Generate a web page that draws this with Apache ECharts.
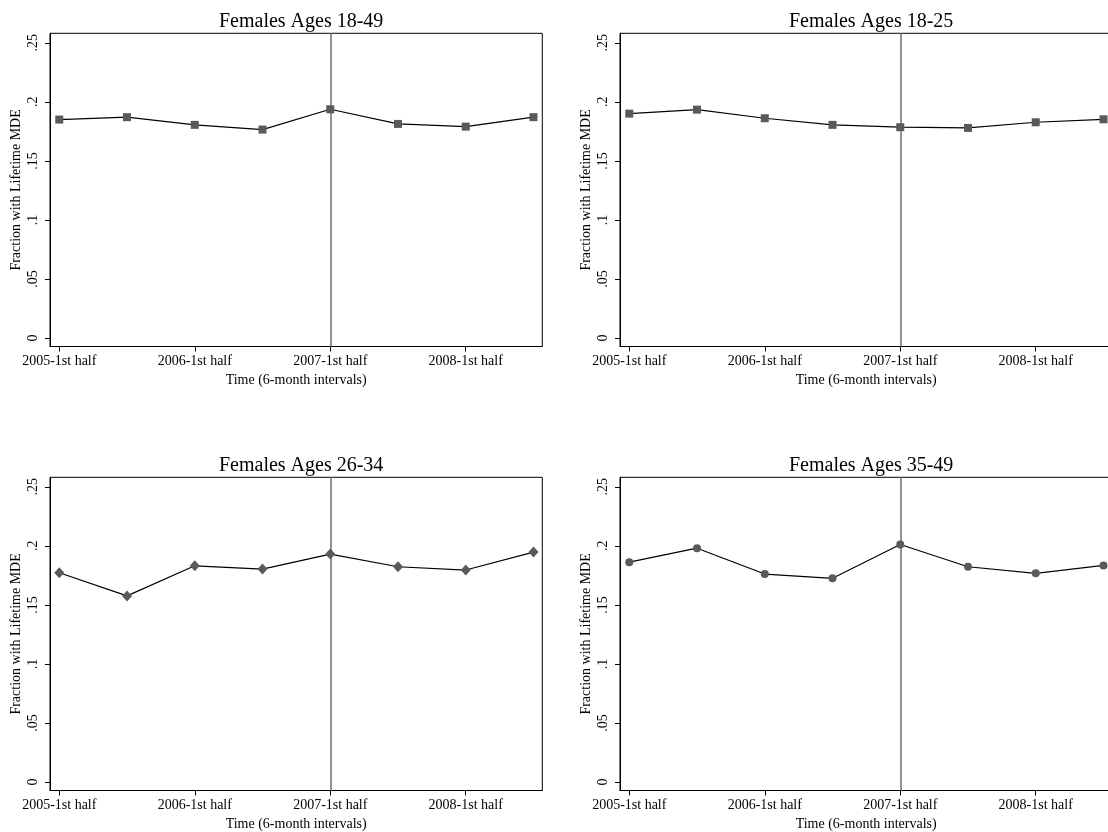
<!DOCTYPE html>
<html>
<head>
<meta charset="utf-8">
<script src="https://cdn.jsdelivr.net/npm/echarts@6/dist/echarts.min.js"></script>
<style>
html,body{margin:0;padding:0;background:#fff;}
#chart{width:1108px;height:832px;}
</style>
</head>
<body>
<div id="chart"></div>
<script>
// Periods (6-month intervals)
const periods = ['2005-1st half','2005-2nd half','2006-1st half','2006-2nd half','2007-1st half','2007-2nd half','2008-1st half','2008-2nd half'];
const xTickIdx = [0, 2, 4, 6];
const yTicks = [0, 0.05, 0.1, 0.15, 0.2, 0.25];
const yTickLabels = ['0', '.05', '.1', '.15', '.2', '.25'];
const panelTitles = ['Females Ages 18-49', 'Females Ages 18-25', 'Females Ages 26-34', 'Females Ages 35-49'];
const f1849 = [0.185, 0.187, 0.1805, 0.1765, 0.1937, 0.1813, 0.179, 0.187];
const f1825 = [0.190, 0.1934, 0.1861, 0.1805, 0.1785, 0.1779, 0.1827, 0.1852];
const f2634 = [0.1772, 0.1576, 0.1831, 0.1803, 0.193, 0.1823, 0.1795, 0.1947];
const f3549 = [0.1862, 0.198, 0.1761, 0.1725, 0.2011, 0.1823, 0.1767, 0.1834];
const cutoffIdx = 4;
const symbols = ['rect', 'rect', 'diamond', 'circle'];
const symbolSizes = [8, 8, [10, 11], 8];

const seriesData = [f1849, f1825, f2634, f3549];
const FONT = 'Liberation Serif';
// plot boxes; right-hand panels run slightly past the page edge (cropped like the original)
const boxes = [
  {left: 50, top: 33.3},
  {left: 620, top: 33.3},
  {left: 50, top: 477.3},
  {left: 620, top: 477.3}
];
const W = 492.3, H = 313.2;

const grids = [], xAxes = [], yAxes = [], series = [], titles = [];
boxes.forEach((b, i) => {
  grids.push({left: b.left, top: b.top, width: W, height: H, show: true,
    borderColor: '#000', borderWidth: 1, backgroundColor: 'transparent',
    containLabel: false, outerBoundsMode: 'none'});
  titles.push({text: panelTitles[i], left: b.left + W / 2, top: b.top - 27, textAlign: 'center',
    textStyle: {fontFamily: FONT, fontSize: 20, fontWeight: 'normal', color: '#000'}});
  xAxes.push({type: 'value', gridIndex: i, min: -0.137, max: 7.13,
    name: 'Time (6-month intervals)', nameLocation: 'middle', nameGap: 27,
    nameTextStyle: {fontFamily: FONT, fontSize: 14, color: '#000'},
    axisLine: {show: true, onZero: false, lineStyle: {color: '#000', width: 1}},
    axisTick: {show: true, length: 5, customValues: xTickIdx, lineStyle: {color: '#000'}},
    axisLabel: {customValues: xTickIdx, margin: 8, fontFamily: FONT, fontSize: 14, color: '#000',
      formatter: v => periods[Math.round(v)]},
    splitLine: {show: false}});
  yAxes.push({type: 'value', gridIndex: i, min: -0.0071, max: 0.258,
    name: 'Fraction with Lifetime MDE', nameLocation: 'middle', nameGap: 27, nameRotate: 90,
    nameTextStyle: {fontFamily: FONT, fontSize: 14, color: '#000'},
    axisLine: {show: true, onZero: false, lineStyle: {color: '#000', width: 1}},
    axisTick: {show: true, length: 5, customValues: yTicks, lineStyle: {color: '#000'}},
    axisLabel: {customValues: yTicks, rotate: 90, margin: 10, fontFamily: FONT, fontSize: 14, color: '#000',
      formatter: v => { const k = yTicks.findIndex(t => Math.abs(t - v) < 1e-6); return k >= 0 ? yTickLabels[k] : ''; }},
    splitLine: {show: false}});
  series.push({type: 'line', xAxisIndex: i, yAxisIndex: i,
    data: seriesData[i].map((v, j) => [j, v]),
    symbol: symbols[i], symbolSize: symbolSizes[i], showSymbol: true,
    lineStyle: {color: '#000', width: 1.2},
    itemStyle: {color: '#5a5a5a', borderWidth: 0},
    z: 3,
    markLine: {silent: true, symbol: ['none', 'none'], label: {show: false},
      lineStyle: {color: '#777', width: 1.6, type: 'solid'},
      data: [{xAxis: cutoffIdx}], z: 2},
    animation: false});
});

const chart = echarts.init(document.getElementById('chart'), null, {renderer: 'canvas'});
chart.setOption({
  animation: false,
  backgroundColor: '#fff',
  title: titles,
  grid: grids,
  xAxis: xAxes,
  yAxis: yAxes,
  series: series
});
</script>
</body>
</html>
